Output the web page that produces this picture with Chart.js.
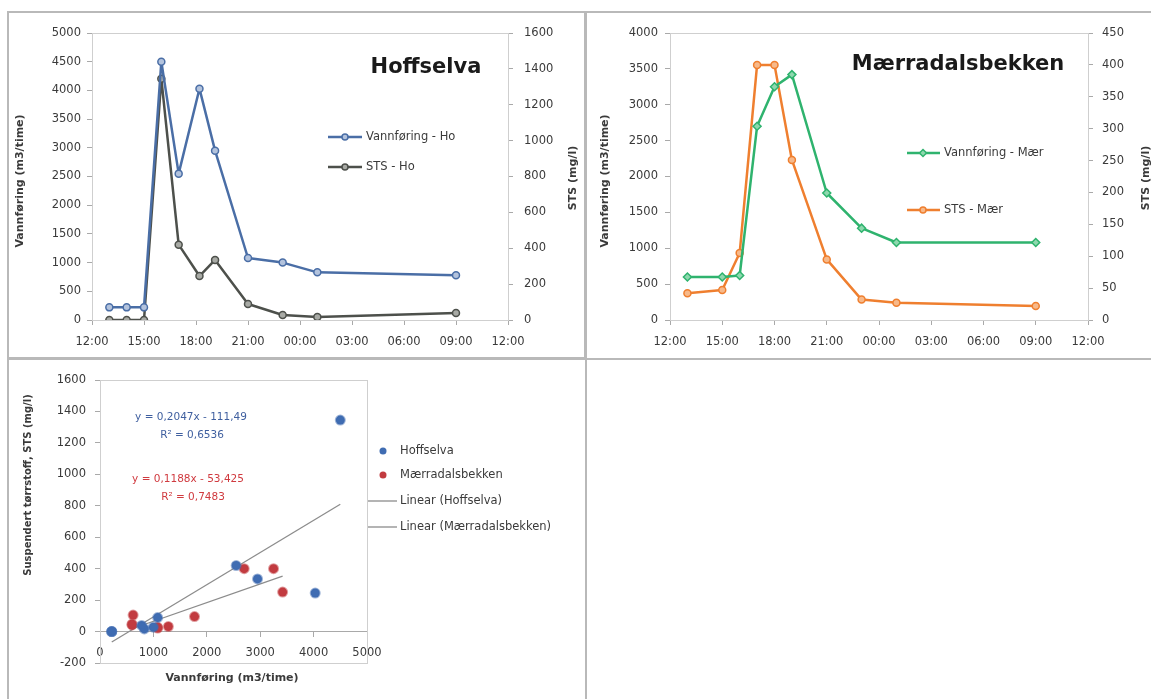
<!DOCTYPE html>
<html>
<head>
<meta charset="utf-8">
<script src="https://cdn.jsdelivr.net/npm/chart.js@4.4.0/dist/chart.umd.min.js"></script>
<style>
  html, body { margin: 0; padding: 0; background: #fff; width: 1151px; height: 699px; overflow: hidden; position: relative; }
  .panel { position: absolute; box-sizing: border-box; border: 2px solid #b9b9b9; }
  canvas { position: absolute; }
</style>
</head>
<body>
<div class="panel" style="left:7px; top:11px; width:580px; height:349px;"></div>
<div class="panel" style="left:584px; top:11px; width:600px; height:349px;"></div>
<div class="panel" style="left:7px; top:357px; width:580px; height:360px;"></div>
<canvas id="hoChart" width="577" height="346" style="left:8px; top:12px;"></canvas>
<canvas id="maerChart" width="600" height="346" style="left:585px; top:12px;"></canvas>
<canvas id="scatterChart" width="577" height="345" style="left:8px; top:358px;"></canvas>
<script>
// klokkeslett i timer (25 = 01:00 neste døgn, 33 = 09:00)
const hoTimes = [13, 14, 15, 16, 17, 18.2, 19.1, 21, 23, 25, 33];
const hoFlow = [220, 220, 220, 4500, 2550, 4030, 2950, 1080, 1000, 830, 780];
const hoSts = [0, 0, 0, 1345, 420, 245, 335, 89, 28, 17, 39];

const maerTimes = [13, 15, 16, 17, 18, 19, 21, 23, 25, 33];
const maerFlow = [600, 600, 620, 2700, 3250, 3420, 1770, 1280, 1080, 1080];
const maerSts = [42, 47, 105, 400, 400, 251, 95, 32, 27, 22];

const timeTicks = ['12:00', '15:00', '18:00', '21:00', '00:00', '03:00', '06:00', '09:00', '12:00'];

// lineære trendlinjer: stigning, konstantledd, R²
const trendHo = [0.2047, -111.49, 0.6536];
const trendMaer = [0.1188, -53.425, 0.7483];

const FONT = "'DejaVu Sans', sans-serif";
const textColor = '#3a3a3a';
const axisColor = '#a9a9a9';
const frameColor = '#cfcfcf';

const hoBlue = '#4a6ea6', hoGrey = '#4d504b';
const maerGreen = '#2fb36e', maerOrange = '#ef7f2f';
const dotBlue = '#3f6cb2', dotRed = '#c23b40';

Chart.defaults.font.family = FONT;
Chart.defaults.color = textColor;
Chart.defaults.animation = false;
Chart.defaults.plugins.legend.display = false;
Chart.defaults.plugins.tooltip.enabled = false;

function pts(xs, ys) { return xs.map((x, i) => ({ x: x, y: ys[i] })); }
function comma(v) { return String(v).replace('.', ','); }

function drawMarker(ctx, style, x, y, r, fill, stroke) {
  ctx.save();
  ctx.beginPath();
  if (style === 'rectRot') {
    ctx.moveTo(x, y - r); ctx.lineTo(x + r, y); ctx.lineTo(x, y + r); ctx.lineTo(x - r, y); ctx.closePath();
  } else {
    ctx.arc(x, y, r, 0, Math.PI * 2);
  }
  ctx.fillStyle = fill; ctx.fill();
  if (stroke) { ctx.strokeStyle = stroke; ctx.lineWidth = 1.5; ctx.stroke(); }
  ctx.restore();
}

// ramme rundt plottet, aksetitler, tekster og forklaring
function overlay(cfg) {
  return {
    id: 'overlay',
    beforeDatasetsDraw(chart) {
      const a = chart.chartArea, ctx = chart.ctx;
      ctx.save();
      ctx.strokeStyle = frameColor; ctx.lineWidth = 1;
      ctx.strokeRect(Math.round(a.left) + 0.5, Math.round(a.top) + 0.5, Math.round(a.width), Math.round(a.height));
      ctx.restore();
    },
    afterDraw(chart) {
      const ctx = chart.ctx;
      cfg.texts.forEach(t => {
        ctx.save();
        ctx.translate(t.x, t.y);
        if (t.rot) ctx.rotate(t.rot * Math.PI / 180);
        ctx.font = t.font;
        ctx.fillStyle = t.color || textColor;
        ctx.textAlign = 'center';
        ctx.textBaseline = 'middle';
        ctx.fillText(t.text, 0, 0);
        ctx.restore();
      });
      cfg.legend.forEach(it => {
        ctx.save();
        if (it.x1) {
          ctx.strokeStyle = it.color; ctx.lineWidth = it.lw;
          ctx.beginPath(); ctx.moveTo(it.x0, it.y); ctx.lineTo(it.x1, it.y); ctx.stroke();
        }
        if (it.marker) drawMarker(ctx, it.marker, it.mx, it.y, it.r, it.fill, it.stroke);
        ctx.font = '11.5px ' + FONT;
        ctx.fillStyle = textColor; ctx.textAlign = 'left'; ctx.textBaseline = 'middle';
        ctx.fillText(it.text, it.tx, it.y);
        ctx.restore();
      });
    }
  };
}

function timeAxis() {
  return {
    type: 'linear', position: 'bottom', min: 12, max: 36,
    ticks: { stepSize: 3, autoSkip: false, maxRotation: 0, padding: 10, font: { size: 11.5 },
             callback: v => timeTicks[(v - 12) / 3] },
    grid: { drawOnChartArea: false, tickLength: 5, color: axisColor },
    border: { color: axisColor },
    afterFit: s => { s.height = 38; }
  };
}

function valueAxis(min, max, step, position, width, pad) {
  return {
    type: 'linear', position: position, min: min, max: max,
    ticks: { stepSize: step, padding: pad, font: { size: 11.5 }, callback: v => String(v) },
    grid: { drawOnChartArea: false, tickLength: 5, color: axisColor },
    border: { color: axisColor },
    afterFit: s => { s.width = width; }
  };
}

function seriesStyle(color, fill, style, r) {
  return { borderColor: color, borderWidth: 2.5, borderJoinStyle: 'round', tension: 0,
           pointStyle: style, pointRadius: r,
           pointBackgroundColor: fill, pointBorderColor: color, pointBorderWidth: 1.5 };
}

// Hoffselva: vannføring og STS over tid
new Chart(document.getElementById('hoChart'), {
  type: 'line',
  data: {
    datasets: [
      Object.assign({ label: 'Vannføring - Ho', data: pts(hoTimes, hoFlow), yAxisID: 'y' },
                    seriesStyle(hoBlue, '#b3c3dd', 'circle', 3.5)),
      Object.assign({ label: 'STS - Ho', data: pts(hoTimes, hoSts), yAxisID: 'y1' },
                    seriesStyle(hoGrey, '#a8aaa5', 'circle', 3.5))
    ]
  },
  options: {
    responsive: false, devicePixelRatio: 1,
    layout: { padding: { top: 21, left: 0, right: 0, bottom: 0 } },
    scales: {
      x: timeAxis(),
      y: valueAxis(0, 5000, 500, 'left', 84, 6),
      y1: valueAxis(0, 1600, 200, 'right', 77, 11)
    }
  },
  plugins: [overlay({
    texts: [
      { text: 'Vannføring (m3/time)', x: 12, y: 169, rot: -90, font: 'bold 11px ' + FONT },
      { text: 'STS (mg/l)', x: 565, y: 166, rot: -90, font: 'bold 11px ' + FONT },
      { text: 'Hoffselva', x: 418, y: 56, font: 'bold 21px ' + FONT, color: '#1a1a1a' }
    ],
    legend: [
      { text: 'Vannføring - Ho', x0: 320, x1: 354, mx: 337, y: 125, lw: 2.5, color: hoBlue,
        marker: 'circle', r: 3, fill: '#b3c3dd', stroke: hoBlue, tx: 358 },
      { text: 'STS - Ho', x0: 320, x1: 354, mx: 337, y: 155, lw: 2.5, color: hoGrey,
        marker: 'circle', r: 3, fill: '#a8aaa5', stroke: hoGrey, tx: 358 }
    ]
  })]
});

// Mærradalsbekken: vannføring og STS over tid
new Chart(document.getElementById('maerChart'), {
  type: 'line',
  data: {
    datasets: [
      Object.assign({ label: 'Vannføring - Mær', data: pts(maerTimes, maerFlow), yAxisID: 'y' },
                    seriesStyle(maerGreen, '#8ed8ae', 'rectRot', 4)),
      Object.assign({ label: 'STS - Mær', data: pts(maerTimes, maerSts), yAxisID: 'y1' },
                    seriesStyle(maerOrange, '#f7b98a', 'circle', 3.5))
    ]
  },
  options: {
    responsive: false, devicePixelRatio: 1,
    layout: { padding: { top: 21, left: 0, right: 0, bottom: 0 } },
    scales: {
      x: timeAxis(),
      y: valueAxis(0, 4000, 500, 'left', 85, 7),
      y1: valueAxis(0, 450, 50, 'right', 97, 9)
    }
  },
  plugins: [overlay({
    texts: [
      { text: 'Vannføring (m3/time)', x: 20, y: 169, rot: -90, font: 'bold 11px ' + FONT },
      { text: 'STS (mg/l)', x: 561, y: 166, rot: -90, font: 'bold 11px ' + FONT },
      { text: 'Mærradalsbekken', x: 373, y: 53, font: 'bold 21px ' + FONT, color: '#1a1a1a' }
    ],
    legend: [
      { text: 'Vannføring - Mær', x0: 322, x1: 355, mx: 338, y: 141, lw: 2.5, color: maerGreen,
        marker: 'rectRot', r: 3.5, fill: '#8ed8ae', stroke: maerGreen, tx: 359 },
      { text: 'STS - Mær', x0: 322, x1: 355, mx: 338, y: 198, lw: 2.5, color: maerOrange,
        marker: 'circle', r: 3, fill: '#f7b98a', stroke: maerOrange, tx: 359 }
    ]
  })]
});

// STS mot vannføring med lineære trendlinjer
function trendLine(flow, coef) {
  const lo = Math.min.apply(null, flow), hi = Math.max.apply(null, flow);
  return [{ x: lo, y: coef[0] * lo + coef[1] }, { x: hi, y: coef[0] * hi + coef[1] }];
}
function dots(color) {
  return { backgroundColor: color, borderColor: color + '80', borderWidth: 2, pointRadius: 4.5, pointStyle: 'circle' };
}
function trend(color) {
  return { type: 'line', showLine: true, borderColor: color, borderWidth: 1.3, pointRadius: 0 };
}

new Chart(document.getElementById('scatterChart'), {
  type: 'scatter',
  data: {
    datasets: [
      Object.assign({ label: 'Hoffselva', data: pts(hoFlow, hoSts) }, dots(dotBlue)),
      Object.assign({ label: 'Mærradalsbekken', data: pts(maerFlow, maerSts) }, dots(dotRed)),
      Object.assign({ label: 'Linear (Hoffselva)', data: trendLine(hoFlow, trendHo) }, trend('#8c8c8c')),
      Object.assign({ label: 'Linear (Mærradalsbekken)', data: trendLine(maerFlow, trendMaer) }, trend('#8c8c8c'))
    ]
  },
  options: {
    responsive: false, devicePixelRatio: 1,
    layout: { padding: { top: 22, left: 0, right: 218, bottom: 40 } },
    scales: {
      x: {
        type: 'linear', position: { y: 0 }, min: 0, max: 5000,
        ticks: { stepSize: 1000, padding: 10, maxRotation: 0, font: { size: 11.5 }, callback: v => String(v) },
        grid: { drawOnChartArea: false, tickLength: 5, color: axisColor },
        border: { color: axisColor }
      },
      y: valueAxis(-200, 1600, 200, 'left', 92, 9)
    }
  },
  plugins: [overlay({
    texts: [
      { text: 'Suspendert tørrstoff, STS (mg/l)', x: 20, y: 127, rot: -90, font: 'bold 10px ' + FONT },
      { text: 'Vannføring (m3/time)', x: 224, y: 320, font: 'bold 11px ' + FONT },
      { text: 'y = ' + comma(trendHo[0]) + 'x - ' + comma(-trendHo[1]), x: 183, y: 59, font: '10.5px ' + FONT, color: '#3f5f9f' },
      { text: 'R² = ' + comma(trendHo[2]), x: 184, y: 77, font: '10.5px ' + FONT, color: '#3f5f9f' },
      { text: 'y = ' + comma(trendMaer[0]) + 'x - ' + comma(-trendMaer[1]), x: 180, y: 121, font: '10.5px ' + FONT, color: '#d03a3f' },
      { text: 'R² = ' + comma(trendMaer[2]), x: 185, y: 139, font: '10.5px ' + FONT, color: '#d03a3f' }
    ],
    legend: [
      { text: 'Hoffselva', mx: 375, y: 93, marker: 'circle', r: 3.5, fill: dotBlue, tx: 392 },
      { text: 'Mærradalsbekken', mx: 375, y: 117, marker: 'circle', r: 3.5, fill: dotRed, tx: 392 },
      { text: 'Linear (Hoffselva)', x0: 360, x1: 389, y: 143, lw: 1.3, color: '#8c8c8c', tx: 392 },
      { text: 'Linear (Mærradalsbekken)', x0: 360, x1: 389, y: 169, lw: 1.3, color: '#8c8c8c', tx: 392 }
    ]
  })]
});
</script>
</body>
</html>
